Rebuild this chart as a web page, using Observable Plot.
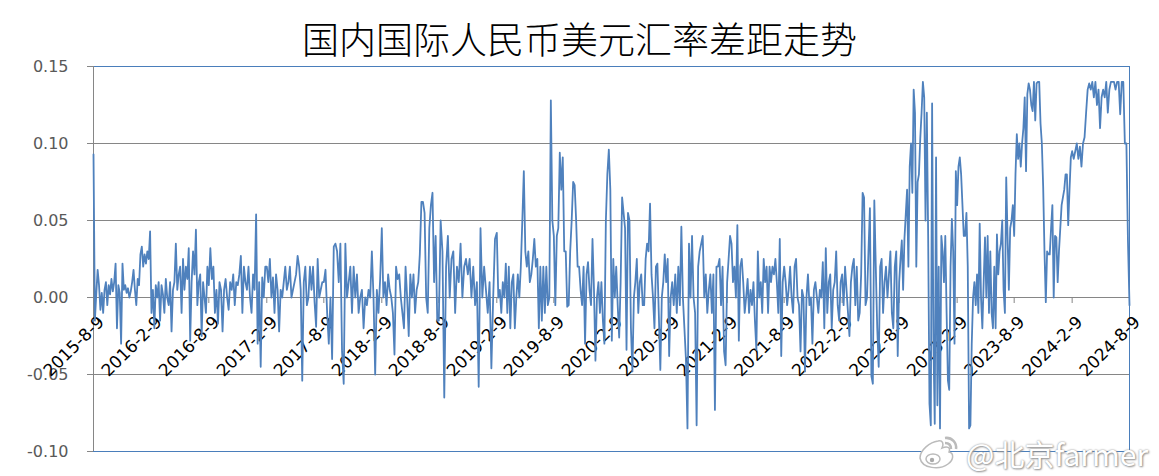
<!DOCTYPE html>
<html><head><meta charset="utf-8">
<script src="https://cdn.jsdelivr.net/npm/d3@7"></script>
<script src="https://cdn.jsdelivr.net/npm/@observablehq/plot@0.6"></script>
<style>
body{margin:0;background:#fff;width:1159px;height:476px;position:relative;overflow:hidden;font-family:"DejaVu Sans",sans-serif}
#title{position:absolute;left:0;top:18px;width:1159px;text-align:center;font:300 37px/40px "Noto Sans CJK SC";color:#000;z-index:2}
#chart{position:absolute;left:0;top:50px;z-index:1}
#wm{position:absolute;left:966px;top:431px;font:400 30px "Noto Sans CJK SC";color:#fff;text-shadow:0 0 2px #888,1px 1px 2px #999;z-index:3}
#logo{position:absolute;left:914px;top:432px;z-index:3}
</style></head><body>
<div id="title">国内国际人民币美元汇率差距走势</div>
<div id="chart"></div>
<svg id="logo" width="50" height="40" viewBox="0 0 50 40">
  <g fill="none" stroke="#bbb" stroke-width="1.5">
    <path d="M6 26 C6 18 16 10 24 9 C29 8 30 12 28 16 C33 14 37 15 35 20 C40 21 40 28 34 32 C26 38 8 37 6 26 Z" fill="#fff"/>
    <ellipse cx="19" cy="27" rx="7" ry="5" fill="#fff"/>
    <path d="M31 6 C38 5 43 11 42 17" stroke-width="2.5"/>
    <path d="M31 11 C35 11 37 13 37 17" stroke-width="2.5"/>
  </g>
  <circle cx="18" cy="28" r="2.2" fill="#aaa"/>
</svg>
<div id="wm">@北京farmer</div>
<script>
const tickLabels = ["2015-8-9","2016-2-9","2016-8-9","2017-2-9","2017-8-9","2018-2-9","2018-8-9","2019-2-9","2019-8-9","2020-2-9","2020-8-9","2021-2-9","2021-8-9","2022-2-9","2022-8-9","2023-2-9","2023-8-9","2024-2-9","2024-8-9"];
const yTicks = [-0.10,-0.05,0,0.05,0.10,0.15];

// values, one array per half-year (evenly spread within it)
const h2015b = [.093,-.015,.002,.018,.008,-.008,.003,-.01,.005,.01,-.005,.008,.002,.012,.004,.01,.022,-.02,.008,.003,-.03,.022,.005,.008,.003,.006,.0,.004,.01,.018,.005,-.005,.012,.008,.028,.033,.02,.028,.022,.03,.025,.043];
const h2016a = [-.01,.005,-.02,.008,.0,.01,-.015,.008,.002,-.01,.012,.0,-.005,.01,-.022,.005,.01,.035,.005,.015,.02,-.01,.025,.005,.02,.012,.032,-.028,.01,.03,.015,.044,-.005,.01,.015,-.025,.01,.0,-.01,.02];
const h2016b = [.008,.032,.012,.02,-.01,.005,-.017,.01,.005,-.022,.005,.012,.0,-.008,.01,.005,.015,-.005,.01,.008,.015,.027,-.01,.02,.01,.005,.02,.0,-.01,.015,.005,.054,-.03,.01,-.045,.013,.0,.02];
const h2017a = [.02,.01,.025,.0,.013,-.01,.015,.005,-.022,.005,.0,.01,.02,.005,.01,.02,.0,.005,.01,.015,.027,.02,.005,-.054,.01,.02,-.005,.0,.02,.005,.02,-.003,-.019,.025,.0,.005,.01];
const h2017b = [.01,.018,-.01,-.03,.0,-.04,.033,.035,.03,.01,.035,-.035,-.056,.035,.0,.01,.02,-.01,.02,.0,.015,-.01,.0,.005,-.02,.0,-.005,.005,.0,.03,.0,-.05,.005,-.01,.012];
const h2018a = [.045,.0,.01,-.005,.015,.005,.0,-.01,-.037,.02,.012,.015,.0,-.01,-.02,.02,.0,-.025,.015,.0,.015,-.01,.005,.01,.028,.062,.062,.055,.0,-.01,.045,.06,.068,.01,.04,-.015];
const h2018b = [-.015,.05,.03,-.065,.02,.04,.0,.025,.03,-.01,.02,.01,.035,.0,.02,.025,.015,.025,.0,.02,-.005,.01,-.058,.045,.0,.02,.005,-.01,.01,-.046,.0,.038];
const h2019a = [.042,.0,.005,-.01,.01,.0,.022,-.01,.02,-.02,.01,.015,-.02,.0,.015,.0,.02,.05,.082,.03,.02,.03,.01,.015,.025,.038,.02,.025,-.02,.02,-.015,.02,-.01,.02,-.005,.0,.128,.05];
const h2019b = [.04,-.005,.04,.045,.094,.07,.091,.03,.03,-.006,-.005,.03,.05,.075,.073,.05,.02,.02,.005,-.005,.02,-.03,.015,.023,.005,-.005,.038,.005,-.041,.0,.01,-.01,.01,-.015,-.03,.05,.08,.096,.07];
const h2020a = [-.028,.025,.0,.02,-.005,-.026,.01,.065,.055,.045,-.034,.055,.05,-.02,-.048,.0,.01,.025,-.01,.01,.015,-.005,-.005,.025,.035,.03,.061,.015,.0,-.02,.02,.022,-.012,-.047,.0,.01,.028,.01,.025];
const h2020b = [-.038,.0,.01,-.005,.015,-.01,.02,-.005,.046,.0,-.02,-.04,-.085,.035,.0,.04,.0,-.01,-.083,.02,.03,.035,.04,.0,.015,-.01,.005,.015,-.01,.015,-.073,.02,.02,.025,-.005,.02,-.035,-.044];
const h2021a = [.01,.025,.04,.035,.01,.02,.0,.047,-.028,.02,.025,.01,-.01,.0,.012,-.01,.005,-.005,.01,-.015,-.034,.03,.0,.01,-.01,.025,.01,.02,-.01,.02,.01,.02,.015,.025,.01,-.01,.038,-.038,.01];
const h2021b = [.02,.01,-.005,.005,.02,.0,-.01,.02,.025,.0,-.005,-.035,.005,.0,-.048,.0,.015,-.005,.0,-.03,.005,.01,.0,-.01,.005,.0,.023,-.02,.032,-.01,.01,.015,-.02,.005,.01,.03,-.005,-.015,.01];
const h2022a = [.015,-.005,.02,.005,-.01,-.025,.01,.02,.025,-.005,.02,-.015,-.01,.015,.068,.065,-.005,.0,.03,.058,-.051,-.056,.063,.02,-.02,-.045,.02,.025,-.01,.01,.02,.0,.015,.03,-.01,-.02,.02,.03,-.038];
const h2022b = [.01,.025,.037,.005,.038,.054,.07,.02,.085,.1,.068,.135,.12,.02,.075,.08,.103,.12,.14,.13,.05,.12,.04,-.069,-.083,.126,-.03,-.082,.091,-.07,.02,-.085,.04,.03,.01,.04,-.01,-.054,-.06,.02,.051,.03,-.03,.082];
const h2023a = [.06,.085,.091,.08,.06,.04,.04,.055,.02,-.085,-.083,-.03,.0,.01,-.005,.015,-.01,.048,.0,-.02,.01,.039,.0,.04,-.01,.03,-.01,-.02,.02,-.02,.041,.015,.03,.035,.05,.005,-.01,.078,.04,.005,.045,.05,.06];
const h2023b = [.04,.08,.106,.09,.1,.085,.1,.11,.13,.082,.132,.139,.135,.125,.121,.14,.115,.139,.14,.14,.113,.1,.072,.03,-.003,.03,.028,.028,.045,.06,.0,.04,.039,.01,.03,.045,.06,.065,.07,.08,.08,.047,.07,.091];
const h2024a = [.095,.09,.095,.1,.09,.098,.085,.1,.104,.12,.135,.139,.135,.14,.13,.14,.125,.135,.11,.13,.135,.13,.14,.12,.135,.14,.14,.14,.135,.14,.14,.119,.14,.14,.1,.1,.037,-.005];

const halves = [h2015b,h2016a,h2016b,h2017a,h2017b,h2018a,h2018b,h2019a,h2019b,h2020a,h2020b,h2021a,h2021b,h2022a,h2022b,h2023a,h2023b,h2024a];

const parse = s => { const [y,m,d] = s.split("-").map(Number); return new Date(Date.UTC(y,m-1,d)); };
const tickDates = tickLabels.map(parse);
const data = [];
halves.forEach((vals,p) => {
  const t0 = +tickDates[p], t1 = +tickDates[p+1];
  const last = p === halves.length-1;
  const step = (t1-t0)/(last ? vals.length-1 : vals.length);
  vals.forEach((v,k) => data.push({date:new Date(t0+k*step), value:v}));
});
const ticks = tickDates.map((d,i) => ({date:d, label:tickLabels[i]}));

const chart = Plot.plot({
  width:1159, height:426, marginTop:16, marginBottom:25, marginLeft:93, marginRight:30,
  x:{type:"utc", domain:[tickDates[0], tickDates[tickDates.length-1]], axis:null},
  y:{domain:[-0.1,0.15], axis:null},
  style:{background:"transparent", overflow:"visible"},
  marks:[
    Plot.frame({stroke:"#4a7ebb"}),
    Plot.gridY(yTicks.slice(1,-1), {stroke:"#868686", strokeOpacity:1}),
    Plot.axisY(yTicks, {label:null, tickSize:6, tickPadding:19, tickFormat:d=>d.toFixed(2), stroke:"#868686", fill:"#595959", fontSize:16, fontFamily:"DejaVu Sans"}),
    Plot.ruleX([tickDates[0]], {stroke:"#868686"}),
    Plot.ruleX(ticks, {x:"date", y1:0, y2:0, insetBottom:-6, stroke:"#868686"}),
    Plot.text(ticks, {x:"date", y:0, text:"label", rotate:-45, textAnchor:"end", lineAnchor:"top", dx:3, dy:17, fontSize:17, fill:"#000", fontFamily:"DejaVu Sans"}),
    Plot.line(data, {x:"date", y:"value", stroke:"#4f81bd", strokeWidth:1.8})
  ]
});
document.getElementById("chart").appendChild(chart);
</script></body></html>
